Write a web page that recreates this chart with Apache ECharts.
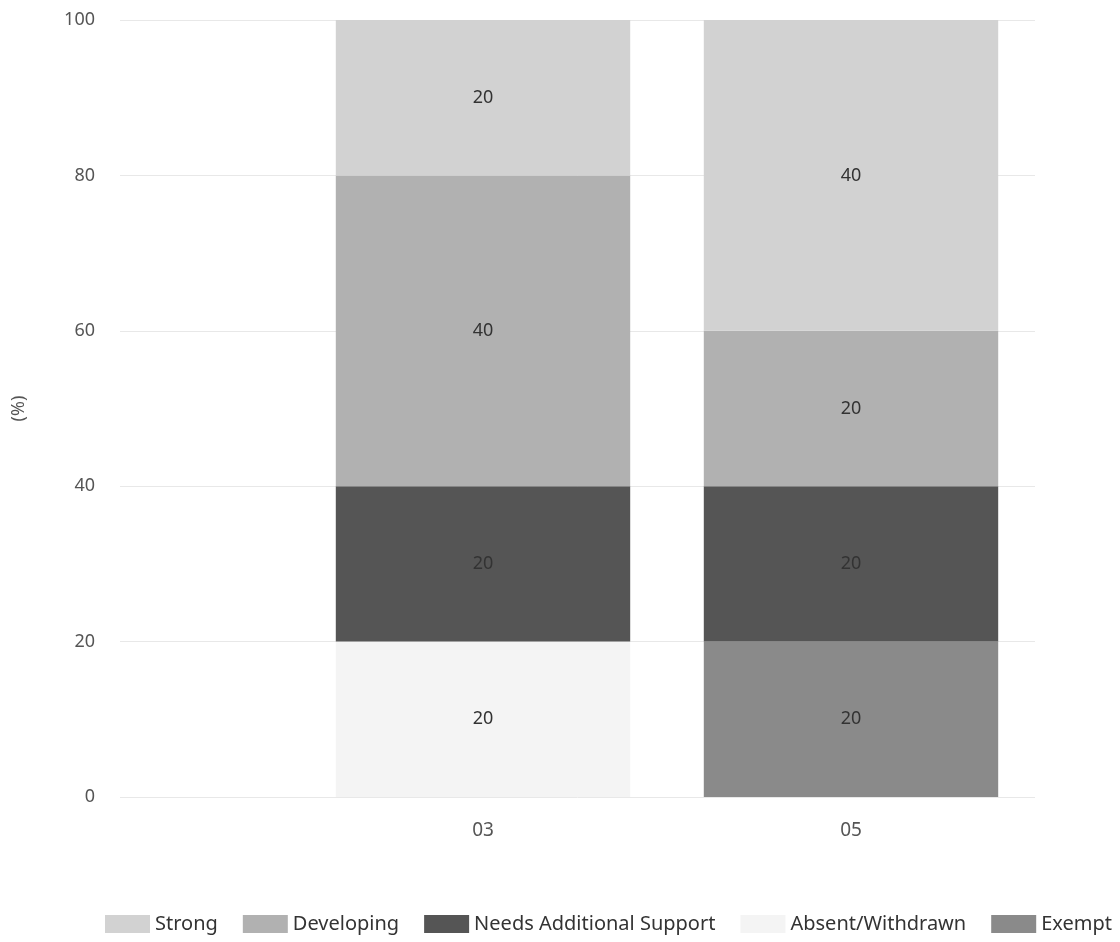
<!DOCTYPE html>
<html>
<head>
<meta charset="utf-8">
<script src="https://cdn.jsdelivr.net/npm/echarts@6/dist/echarts.min.js"></script>
<style>html,body{margin:0;padding:0;background:#fff}#c{width:1120px;height:942px}</style>
</head>
<body>
<div id="c"></div>
<script>
const categories = ["03", "05"];
const yTicks = [0, 20, 40, 60, 80, 100];
const legendOrder = ["Strong", "Developing", "Needs Additional Support", "Absent/Withdrawn", "Exempt"];
const absentWithdrawn = [20, 0];
const exempt = [0, 20];
const needsSupport = [20, 20];
const developing = [40, 20];
const strong = [20, 40];
const colors = {
  "Strong": "#d2d2d2",
  "Developing": "#b1b1b1",
  "Needs Additional Support": "#555555",
  "Absent/Withdrawn": "#f4f4f4",
  "Exempt": "#8a8a8a"
};
const font = "'Noto Sans', 'Open Sans', sans-serif";

function mk(name, data) {
  return {
    name: name, type: 'bar', stack: 'total', data: data,
    xAxisIndex: 1, yAxisIndex: 1,
    barCategoryGap: '20%',
    itemStyle: { color: colors[name] },
    label: {
      show: true, position: 'inside', color: '#333', fontSize: 18, fontFamily: font,
      formatter: p => (p.value > 0 ? String(p.value) : '')
    }
  };
}

const chart = echarts.init(document.getElementById('c'), null, { renderer: 'canvas' });
chart.setOption({
  animation: false,
  backgroundColor: '#fff',
  grid: [
    { left: 120, right: 85, top: 20, bottom: 145 },
    { left: 299, right: 85, top: 20, bottom: 145 }
  ],
  legend: {
    data: legendOrder,
    left: 100, bottom: 3,
    itemWidth: 45, itemHeight: 18, itemGap: 25,
    icon: 'rect',
    textStyle: { fontSize: 20, color: '#333', fontFamily: font }
  },
  xAxis: [
    { type: 'category', gridIndex: 0, data: [''], show: false },
    {
      type: 'category', gridIndex: 1, data: categories,
      axisLine: { show: false }, axisTick: { show: false },
      axisLabel: { fontSize: 19, color: '#555', margin: 24, fontFamily: font }
    }
  ],
  yAxis: [
    {
      type: 'value', gridIndex: 0, min: yTicks[0], max: yTicks[yTicks.length - 1], interval: 20,
      name: '(%)', nameLocation: 'middle', nameGap: 92, nameRotate: 90,
      nameTextStyle: { fontSize: 18, color: '#555', fontFamily: font },
      axisLine: { show: false }, axisTick: { show: false },
      axisLabel: { fontSize: 18, color: '#555', margin: 25, fontFamily: font },
      splitLine: { lineStyle: { color: '#e8e8e8' } }
    },
    {
      type: 'value', gridIndex: 1, min: 0, max: 100, interval: 20, show: false,
      splitLine: { show: false }
    }
  ],
  series: [
    mk("Absent/Withdrawn", absentWithdrawn),
    mk("Exempt", exempt),
    mk("Needs Additional Support", needsSupport),
    mk("Developing", developing),
    mk("Strong", strong)
  ]
});
</script>
</body>
</html>
